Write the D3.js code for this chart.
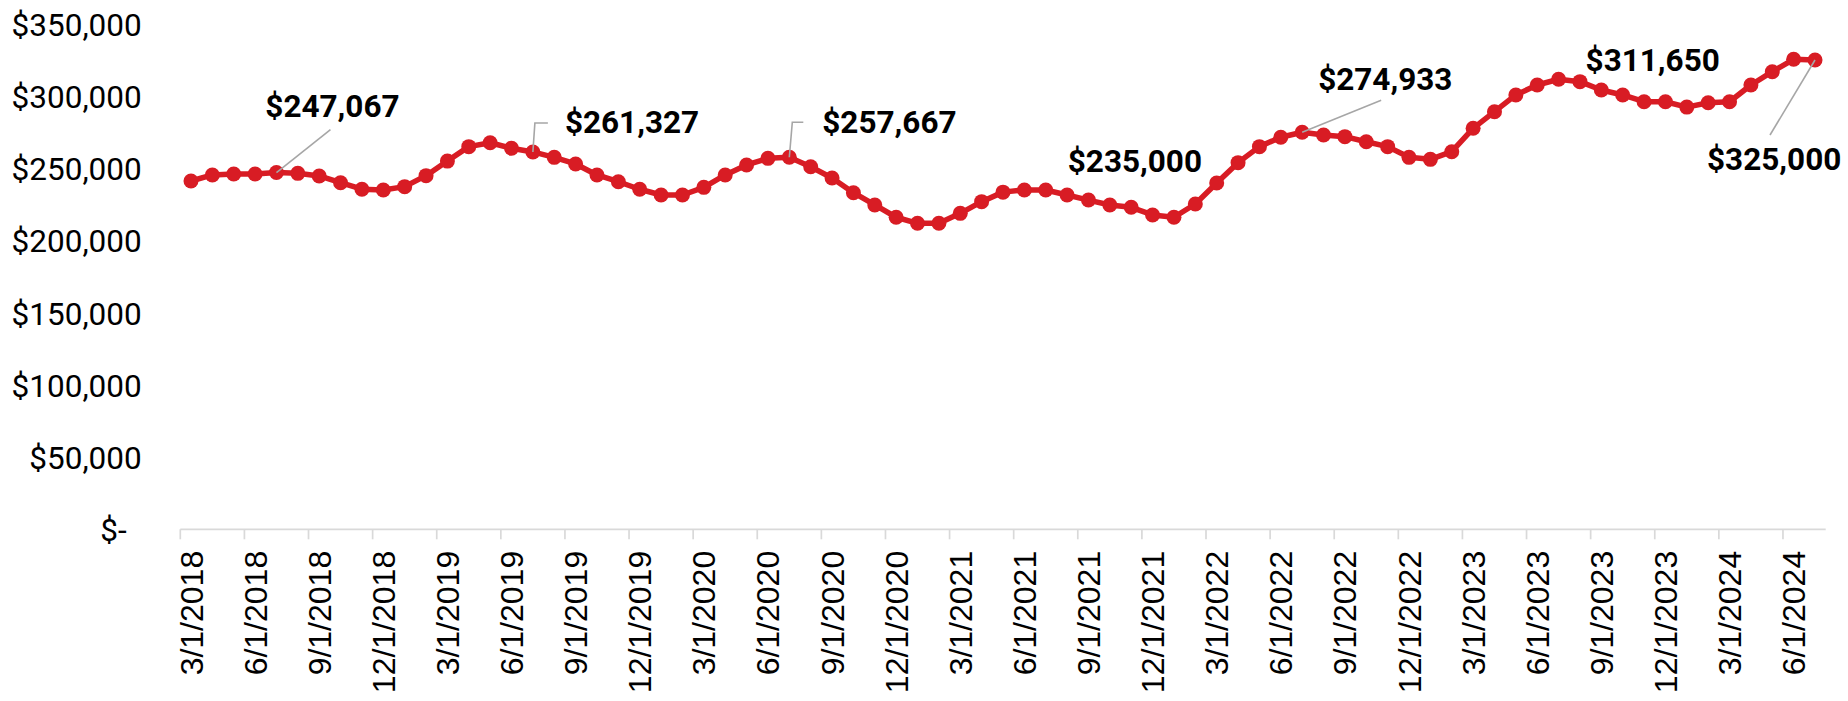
<!DOCTYPE html>
<html>
<head>
<meta charset="utf-8">
<script src="https://cdn.jsdelivr.net/npm/d3@7/dist/d3.min.js"></script>
<style>
  html, body { margin: 0; padding: 0; background: #ffffff; }
  svg { display: block; }
</style>
</head>
<body>
<svg id="chart" width="1848" height="701"></svg>
<script>
// Monthly median sale price, March 2018 through July 2024
const months = d3.timeMonth.range(new Date(2018, 2, 1), new Date(2024, 7, 1));

const medianPrice = [
  241200, 245400, 246100, 246100, 247067, 246500, 244700, 240000, 235500, 235000,
  237300, 244900, 255000, 265000, 267700, 263900, 261327, 257600, 253000, 245400,
  240700, 235500, 231500, 231500, 236800, 245400, 252300, 256900, 257667, 251100,
  243300, 233100, 224600, 216100, 211900, 211900, 218800, 226900, 233500, 235000,
  235000, 231500, 228000, 224600, 223000, 217700, 216100, 225300, 239800, 253900,
  265000, 271500, 274933, 273100, 271900, 268400, 265000, 257600, 256200, 261500,
  277700, 289200, 300800, 307700, 311650, 310000, 304200, 300800, 296100, 296100,
  292400, 295400, 296100, 307700, 316900, 325500, 325000
];

const yTickValues = [0, 50000, 100000, 150000, 200000, 250000, 300000, 350000];

// Months whose value is called out (every July)
const calloutIndex = [4, 16, 28, 40, 52, 64, 76];

// Placement of each callout relative to its point: text offset, anchor, leader path
const calloutLayout = [
  { dx: 56,   dy: -56,  anchor: "middle", leader: [[54, -43], [0, 0]] },
  { dx: 32,   dy: -19,  anchor: "start",  leader: [[15, -29], [2, -29], [0, 0]] },
  { dx: 33,   dy: -24,  anchor: "start",  leader: [[14, -35], [3, -35], [0, 0]] },
  { dx: 22,   dy: -18,  anchor: "start",  leader: null },
  { dx: 16,   dy: -42,  anchor: "start",  leader: [[79, -32], [0, 0]] },
  { dx: 27,   dy: -8,   anchor: "start",  leader: null },
  { dx: -108, dy: 110,  anchor: "start",  leader: [[-45, 75], [0, 0]] }
];

const RED = "#d81c24";
const AXIS_GREY = "#d9d9d9";
const LEADER_GREY = "#a6a6a6";

const svg = d3.select("#chart");

const x = d3.scaleBand()
  .domain(months)
  .range([180.3, 1825.7])
  .paddingInner(0)
  .paddingOuter(0);

const y = d3.scaleLinear()
  .domain([0, 350000])
  .range([529.3, 23.9]);

const cx = i => x(months[i]) + x.bandwidth() / 2;
const cy = i => y(medianPrice[i]);

// Y axis labels (no axis line)
const fmtMoney = d3.format("$,.0f");
const yAxis = d3.axisLeft(y)
  .tickValues(yTickValues)
  .tickSize(0)
  .tickPadding(0)
  .tickFormat(v => v === 0 ? "$-" : fmtMoney(v));

const gy = svg.append("g")
  .attr("transform", "translate(141.7,0)")
  .call(yAxis);
gy.select(".domain").remove();
gy.selectAll(".tick text")
  .attr("font-family", "Roboto, sans-serif")
  .attr("font-size", 31.5)
  .attr("fill", "#000")
  .attr("dy", "0.36em")
  .attr("x", v => v === 0 ? -15 : 0);

// X axis: baseline, quarterly tick marks at month boundaries, labels centred in the month
const quarterMonths = months.filter((d, i) => i % 3 === 0);
const fmtDate = d3.timeFormat("%-m/%-d/%Y");

const gx = svg.append("g");
gx.append("line")
  .attr("x1", x.range()[0]).attr("x2", x.range()[1])
  .attr("y1", y(0)).attr("y2", y(0))
  .attr("stroke", AXIS_GREY).attr("stroke-width", 1.7);

gx.selectAll("line.tick")
  .data(quarterMonths)
  .join("line")
  .attr("class", "tick")
  .attr("x1", d => x(d)).attr("x2", d => x(d))
  .attr("y1", y(0)).attr("y2", y(0) + 10)
  .attr("stroke", AXIS_GREY).attr("stroke-width", 1.7);

gx.selectAll("text")
  .data(quarterMonths)
  .join("text")
  .attr("transform", d => `translate(${x(d) + x.bandwidth() / 2},${y(0) + 21.5}) rotate(-90)`)
  .attr("text-anchor", "end")
  .attr("dy", "0.36em")
  .attr("font-family", "'Liberation Sans', Arial, sans-serif")
  .attr("font-size", 32)
  .attr("fill", "#000")
  .text(d => fmtDate(d));

// Price line and markers
const line = d3.line()
  .x((d, i) => cx(i))
  .y((d, i) => cy(i));

svg.append("path")
  .datum(medianPrice)
  .attr("d", line)
  .attr("fill", "none")
  .attr("stroke", RED)
  .attr("stroke-width", 5.5)
  .attr("stroke-linejoin", "round");

svg.append("g")
  .selectAll("circle")
  .data(medianPrice)
  .join("circle")
  .attr("cx", (d, i) => cx(i))
  .attr("cy", (d, i) => cy(i))
  .attr("r", 7.5)
  .attr("fill", RED);

// Callouts
const gc = svg.append("g");
calloutIndex.forEach((idx, k) => {
  const L = calloutLayout[k];
  const px = cx(idx), py = cy(idx);
  if (L.leader) {
    gc.append("path")
      .attr("d", d3.line()(L.leader.map(([dx, dy]) => [px + dx, py + dy])))
      .attr("fill", "none")
      .attr("stroke", LEADER_GREY)
      .attr("stroke-width", 1.6);
  }
  gc.append("text")
    .attr("x", px + L.dx)
    .attr("y", py + L.dy)
    .attr("text-anchor", L.anchor)
    .attr("font-family", "Roboto, sans-serif")
    .attr("font-weight", 700)
    .attr("font-size", 31.5)
    .attr("fill", "#000")
    .text(fmtMoney(medianPrice[idx]));
});
</script>
</body>
</html>
